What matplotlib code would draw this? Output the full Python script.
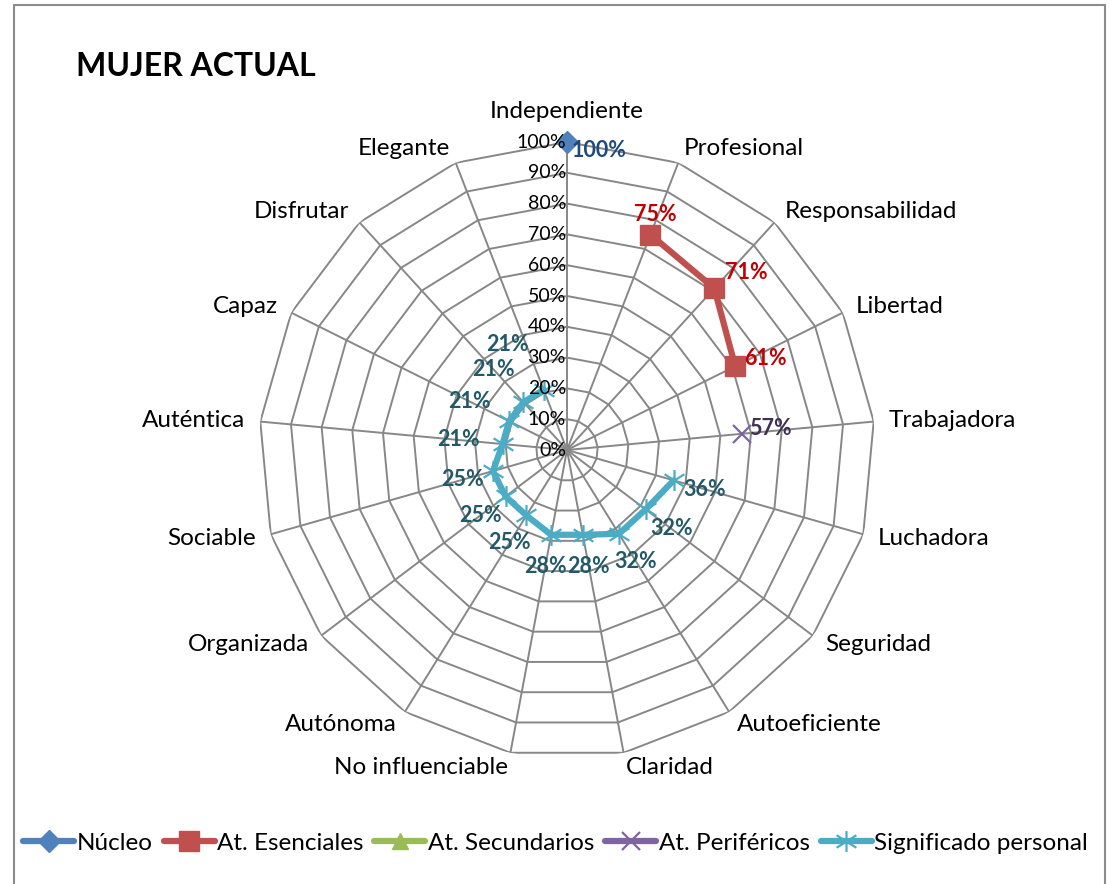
import numpy as np
import matplotlib
matplotlib.use("Agg")
import matplotlib.pyplot as plt
from matplotlib.path import Path
from matplotlib.patches import Rectangle

plt.rcParams["font.family"] = ["Lato", "DejaVu Sans"]

categories = [
    "Independiente", "Profesional", "Responsabilidad", "Libertad", "Trabajadora",
    "Luchadora", "Seguridad", "Autoeficiente", "Claridad", "No influenciable",
    "Autónoma", "Organizada", "Sociable", "Auténtica", "Capaz", "Disfrutar", "Elegante",
]

# values as fractions, None = no point for that category
nucleo = [1.00, None, None, None, None, None, None, None, None, None, None, None, None, None, None, None, None]
esenciales = [None, 0.75, 0.71, 0.61, None, None, None, None, None, None, None, None, None, None, None, None, None]
secundarios = [None, None, None, None, None, None, None, None, None, None, None, None, None, None, None, None, None]
perifericos = [None, None, None, None, 0.57, None, None, None, None, None, None, None, None, None, None, None, None]
significado = [None, None, None, None, None, 0.36, 0.32, 0.32, 0.28, 0.28, 0.25, 0.25, 0.25, 0.21, 0.21, 0.21, 0.21]

rings = [0.0, 0.1, 0.2, 0.3, 0.4, 0.5, 0.6, 0.7, 0.8, 0.9, 1.0]


def arr(v):
    return np.array([np.nan if x is None else x for x in v], dtype=float)


n = len(categories)
angles = np.arange(n) * 2 * np.pi / n

fig = plt.figure(figsize=(11.11, 8.84), dpi=100)

# outer chart frame
fig.patches.append(Rectangle((14 / 1111, -0.01), 1091 / 1111, 1 - 5 / 884 + 0.01,
                             transform=fig.transFigure, fill=False,
                             edgecolor="#8c8c8c", linewidth=1.5))

cx, cy, R = 567, 884 - 450, 308
ax = fig.add_axes([(cx - R) / 1111, (cy - R) / 884, 2 * R / 1111, 2 * R / 884],
                  projection="polar")
ax.set_theta_zero_location("N")
ax.set_theta_direction(-1)
ax.set_ylim(0, 1)
ax.set_xticks([])
ax.set_yticks([])
ax.grid(False)
ax.spines["polar"].set_visible(False)
ax.patch.set_alpha(0)

grid_color = "#878787"
closed = np.append(angles, angles[0])
for r in rings[1:]:
    ax.plot(closed, [r] * (n + 1), color=grid_color, lw=1.4, zorder=1)
for a in angles:
    ax.plot([a, a], [0, 1], color=grid_color, lw=1.4, zorder=1)

# radial tick labels
for r in rings:
    ax.annotate(f"{r:.0%}", xy=(0, r), xytext=(-1, 0), textcoords="offset pixels",
                ha="right", va="center", fontsize=14, color="black", zorder=5)

# category labels
for a, lab in zip(angles, categories):
    s, c = np.sin(a), np.cos(a)
    if abs(s) < 0.01:
        ha, va = "center", "bottom"
        off = (0, 20)
    else:
        ha = "left" if s > 0 else "right"
        va = "center"
        off = (15 * s, 15 * c)
    ax.annotate(lab, xy=(a, 1.0), xytext=off, textcoords="offset pixels",
                ha=ha, va=va, fontsize=17.5)

star = Path([(0, -1), (0, 1), (-0.95, -0.6), (0.95, 0.6), (-0.95, 0.6), (0.95, -0.6)],
            [Path.MOVETO, Path.LINETO] * 3)

series = [
    ("Núcleo", nucleo, "#4F81BD", dict(marker="D", markersize=11)),
    ("At. Esenciales", esenciales, "#C0504D", dict(marker="s", markersize=14)),
    ("At. Secundarios", secundarios, "#9BBB59", dict(marker="^", markersize=11)),
    ("At. Periféricos", perifericos, "#8064A2", dict(marker="x", markersize=13, markeredgewidth=1.6)),
    ("Significado personal", significado, "#4BACC6", dict(marker=star, markersize=15, markeredgewidth=1.6)),
]

handles = []
for name, vals, col, mk in series:
    v = arr(vals)
    h, = ax.plot(angles, v, color=col, lw=4.5, label=name, markerfacecolor=col,
                 markeredgecolor=col, zorder=3, solid_capstyle="round", clip_on=False, **mk)
    handles.append(h)

label_style = dict(fontsize=15.5, fontweight="bold", textcoords="offset pixels", zorder=6)

# Núcleo / esenciales / periféricos labels sit to the right of their points
for vals, lcol, offs in [
    (nucleo, "#1F497D", [(5, -8)]),
    (esenciales, "#C00000", [(-16, 20), (11, 16), (9, 8)]),
    (perifericos, "#403152", [(7, 5)]),
]:
    pts = [(a, v) for a, v in zip(angles, vals) if v is not None]
    for (a, v), (dx, dy) in zip(pts, offs):
        ax.annotate(f"{v:.0%}", xy=(a, v), xytext=(dx, dy), ha="left", va="center",
                    color=lcol, **label_style)

# significado labels pushed outward along their spoke
for a, v in zip(angles, significado):
    if v is None:
        continue
    d = 44 if v < 0.22 else 32
    dx, dy = d * np.sin(a), d * np.cos(a)
    if np.cos(a) > 0.85:
        # keep clear of the value axis labels
        dx -= 20
        dy += 4
    ax.annotate(f"{v:.0%}", xy=(a, v), xytext=(dx, dy),
                ha="center", va="center", color="#215968", **label_style)

fig.text(76 / 1111, 1 - 66 / 884, "MUJER ACTUAL", fontsize=23, fontweight="bold",
         ha="left", va="center")

fig.legend(handles=handles, loc="center", bbox_to_anchor=(0.5, 1 - 843 / 884),
           ncol=5, frameon=False, fontsize=17.5, handlelength=2.1, handletextpad=0.1,
           columnspacing=0.45)

fig.savefig("out.png", dpi=100)
